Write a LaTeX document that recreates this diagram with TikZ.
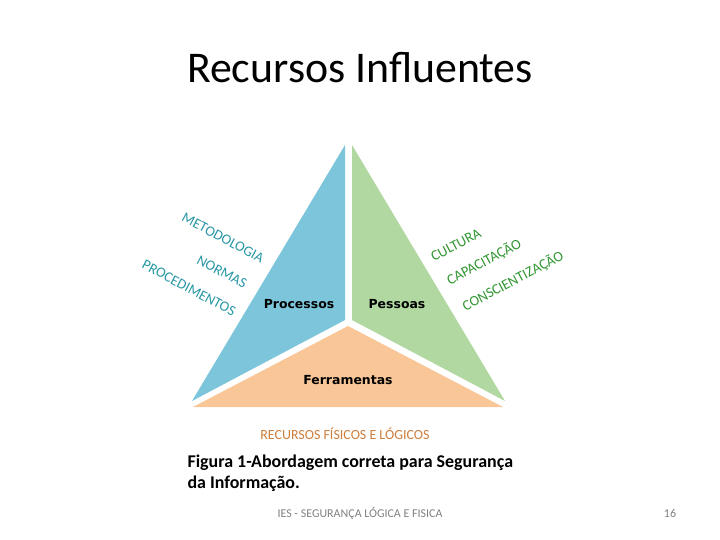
\documentclass[tikz,border=0pt]{standalone}
\usepackage{fontspec}
\setmainfont{Carlito}
\newfontfamily\boxfont{DejaVu Sans}
\usetikzlibrary{positioning}

\definecolor{procblue}{RGB}{125,197,219}
\definecolor{pessgreen}{RGB}{176,216,160}
\definecolor{ferrorange}{RGB}{249,198,152}
\definecolor{tealtext}{RGB}{40,150,165}
\definecolor{greentext}{RGB}{50,150,50}
\definecolor{brown}{RGB}{205,125,60}

\begin{document}
\begin{tikzpicture}[
        x=1bp, y=-1bp,
        inlabel/.style={font=\boxfont\bfseries\fontsize{12.5}{14}\selectfont, text=black},
        leftlbl/.style={font=\fontsize{14.5}{16}\selectfont, text=tealtext, rotate=-28, inner sep=0pt},
        rightlbl/.style={font=\fontsize{14.5}{16}\selectfont, text=greentext, rotate=28, inner sep=0pt},
    ]
\useasboundingbox (0,0) rectangle (720,540);

\node[font=\fontsize{44}{48}\selectfont] (title) at (360,68) {Recursos Influentes};

% the three parts
\coordinate (T1) at (345,145);
\coordinate (T2) at (352,145);
\fill[procblue] (T1) -- (192,401) -- (345,320) -- cycle;
\fill[pessgreen] (T2) -- (352,320) -- (505,401) -- cycle;
\fill[ferrorange] (348,326) -- (193,407) -- (503,407) -- cycle;

\node[inlabel] (proc) at (299,304) {Processos};
\node[inlabel] (pess) at (397,304) {Pessoas};
\node[inlabel] (ferr) at (348,380) {Ferramentas};

\node[leftlbl] (met) at (223,238) {METODOLOGIA};
\node[leftlbl] (nor) at (222,272) {NORMAS};
\node[leftlbl] (pro) at (189,288) {PROCEDIMENTOS};

\node[rightlbl] (cul) at (456,245) {CULTURA};
\node[rightlbl] (cap) at (484,262) {CAPACITAÇÃO};
\node[rightlbl] (con) at (513,281) {CONSCIENTIZAÇÃO};

\node[font=\fontsize{14}{16}\selectfont, text=brown] (rec) at (345,434) {RECURSOS FÍSICOS E LÓGICOS};

\node[font=\bfseries\fontsize{18}{21}\selectfont, anchor=west] (cap1) at (184,463) {Figura 1-Abordagem correta para Segurança};
\node[font=\bfseries\fontsize{18}{21}\selectfont, anchor=west] (cap2) at (184,484) {da Informação.};

\node[font=\fontsize{12}{14}\selectfont, text=gray] (foot) at (360,514) {IES - SEGURANÇA LÓGICA E FISICA};
\node[font=\fontsize{12}{14}\selectfont, text=gray] (page) at (670,514) {16};

\end{tikzpicture}
\end{document}
